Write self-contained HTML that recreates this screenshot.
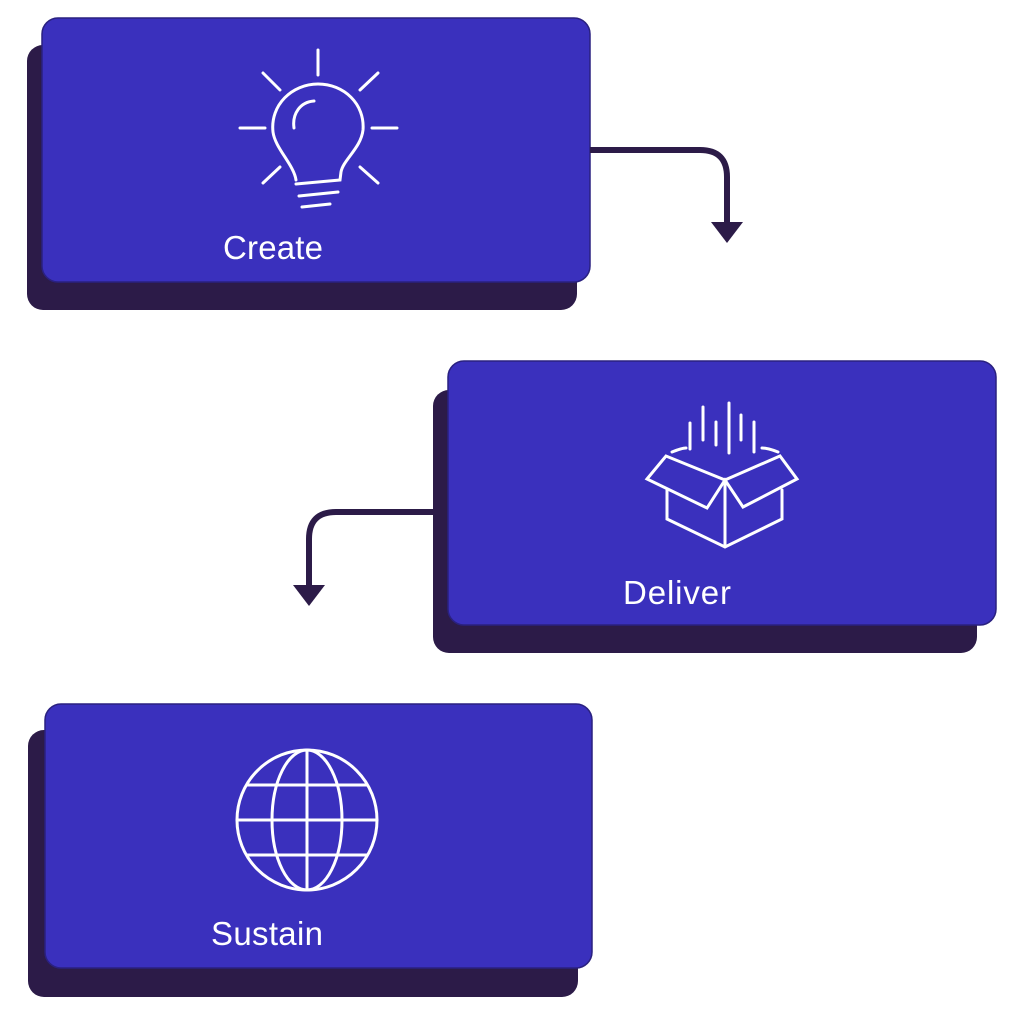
<!DOCTYPE html>
<html><head><style>html,body{margin:0;background:#fff}</style></head><body>
<svg width="1024" height="1024" viewBox="0 0 1024 1024" xmlns="http://www.w3.org/2000/svg">
<g fill="#2c1b48">
<rect x="27" y="45" width="550" height="265" rx="16"/>
<rect x="433" y="390" width="544" height="263" rx="16"/>
<rect x="28" y="730" width="550" height="267" rx="16"/>
</g>
<g fill="#3a30bd" stroke="#2a2180" stroke-width="1.5">
<rect x="42" y="18" width="548" height="264" rx="16"/>
<rect x="448" y="361" width="548" height="264" rx="16"/>
<rect x="45" y="704" width="547" height="264" rx="16"/>
</g>
<g fill="none" stroke="#2c1b48" stroke-width="6">
<path d="M590 150 H700 Q727 150 727 177 V228"/>
<path d="M433 512 H336 Q309 512 309 539 V592"/>
</g>
<g fill="#2c1b48">
<polygon points="711,222 743,222 727,243"/>
<polygon points="293,585 325,585 309,606"/>
</g>
<g fill="none" stroke="#fff" stroke-width="3" stroke-linecap="round">
<path d="M318 50V75M240 128H265M372 128H397M263 73L280 90M378 73L360 90M263 183L280 167M378 183L360 167"/>
<path d="M296 180 C294 165 275 148 273 132 C270 105 292 84 318 84 C344 84 365 104 363 130 C361 148 343 160 341 172 L340 180 L296 184"/>
<path d="M314 101 C300 102 292 114 294 128"/>
<path d="M299 196L338 192M302 207L330 204"/>
<path d="M690 449V423M703 440V407M716 445V422M729 453V403M741 440V415M754 452V422"/>
<path d="M647 479L666 456L725 480L780 456L797 479L743 507L725 480L707 508Z"/>
<path d="M667 490V519L725 547L782 519V490M725 480V547"/>
<path d="M672 452Q682 448 686 448M778 452Q768 448 762 448"/>
<circle cx="307" cy="820" r="70"/>
<ellipse cx="307" cy="820" rx="35" ry="70"/>
<path d="M307 750V890M237 820H377M247 785H367M247 855H367"/>
</g>
<g fill="#fff" font-family="Liberation Sans, sans-serif" font-size="33">
<text x="223" y="259" textLength="100">Create</text>
<text x="623" y="604" textLength="108">Deliver</text>
<text x="211" y="945" textLength="112">Sustain</text>
</g>
</svg>
</body></html>
